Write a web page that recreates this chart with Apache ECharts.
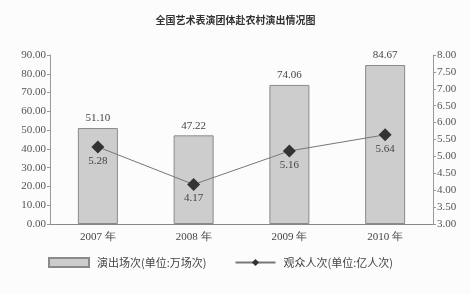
<!DOCTYPE html>
<html><head><meta charset="utf-8">
<script src="https://cdn.jsdelivr.net/npm/echarts@6/dist/echarts.min.js"></script>
<style>html,body{margin:0;padding:0;background:#fcfcfc}#c{width:471px;height:294px}</style>
</head><body><div id="c"></div>
<script>
const categories = ['2007 年', '2008 年', '2009 年', '2010 年'];
const performances = [51.10, 47.22, 74.06, 84.67];
const audience = [5.28, 4.17, 5.16, 5.64];
const barName = '演出场次(单位:万场次)';
const lineName = '观众人次(单位:亿人次)';
const titleText = '全国艺术表演团体赴农村演出情况图';

const serif = '"Liberation Serif","DejaVu Serif",serif';
const cjk = '"Noto Sans CJK SC",sans-serif';
const chart = echarts.init(document.getElementById('c'));
chart.setOption({
  backgroundColor: '#fcfcfc',
  animation: false,
  title: { text: titleText, left: 'center', top: 10,
    textStyle: { fontFamily: cjk, fontSize: 10, fontWeight: 'bold', color: '#333' } },
  legend: {
    bottom: 21, left: 43, itemGap: 28, itemWidth: 40, itemHeight: 9,
    textStyle: { fontFamily: cjk, fontSize: 11, color: '#444', padding: [0, 0, 0, 3] },
    data: [
      { name: barName, icon: 'rect' },
      { name: lineName }
    ]
  },
  grid: { left: 50, right: 38, top: 55, bottom: 70 },
  xAxis: {
    type: 'category', data: categories,
    axisLine: { lineStyle: { color: '#888' } },
    axisTick: { show: false },
    axisLabel: { fontFamily: serif, fontSize: 11, color: '#444', margin: 8 }
  },
  yAxis: [
    { type: 'value', min: 0, max: 90, interval: 10, splitLine: { show: false },
      axisLine: { show: true, lineStyle: { color: '#999' } },
      axisTick: { show: true, length: 3, lineStyle: { color: '#999' } },
      axisLabel: { fontFamily: serif, fontSize: 11, color: '#555', margin: 4,
        formatter: v => v.toFixed(2) } },
    { type: 'value', min: 3, max: 8, interval: 0.5, splitLine: { show: false },
      axisLine: { show: true, lineStyle: { color: '#999' } },
      axisTick: { show: true, length: 3, lineStyle: { color: '#999' } },
      axisLabel: { fontFamily: serif, fontSize: 11, color: '#555', margin: 4,
        formatter: v => v.toFixed(2) } }
  ],
  series: [
    { name: barName, type: 'bar', data: performances, barWidth: 40, yAxisIndex: 0,
      itemStyle: { color: '#cdcdcd', borderColor: '#8a8a8a', borderWidth: 1 },
      label: { show: true, position: 'top', distance: 4, fontFamily: serif, fontSize: 11, color: '#444',
        formatter: p => p.value.toFixed(2) } },
    { name: lineName, type: 'line', data: audience, yAxisIndex: 1,
      symbol: 'diamond', symbolSize: 13,
      lineStyle: { color: '#777', width: 1 },
      itemStyle: { color: '#333' },
      label: { show: true, position: 'bottom', distance: 2, fontFamily: serif, fontSize: 11, color: '#444',
        formatter: p => p.value.toFixed(2) } }
  ]
});
</script></body></html>
